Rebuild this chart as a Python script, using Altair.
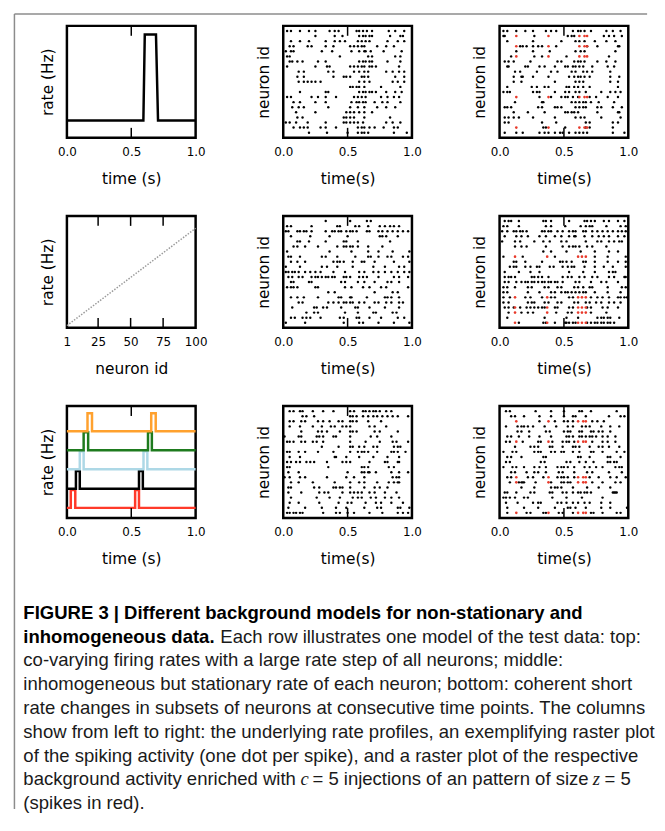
import altair as alt
import pandas as pd

# ---------------- data ----------------
# Row 1, left: co-varying rate step (time in s, rate in Hz)
A1_T = [0.0, 0.594, 0.605, 0.692, 0.708, 1.0]
A1_RATE = [10, 10, 60, 60, 10, 10]

# Row 2, left: inhomogeneous stationary rates (neuron id -> rate)
B1_NEURON = [1, 100]
B1_RATE = [1, 44.5]

# Row 3, left: coherent short rate changes in 5 subsets
C1_SERIES = ["red", "black", "lightblue", "green", "orange"]
C1_COLORS = ["#ff3a2a", "#000000", "#add8e6", "#1e7b1e", "#ffa12e"]
C1_BASE = [0.09, 0.26, 0.435, 0.605, 0.775]
C1_PULSE_START = [[0.030, 0.530], [0.070, 0.560], [0.100, 0.595], [0.130, 0.630], [0.160, 0.655]]
C1_PULSE_END = [[0.065, 0.560], [0.100, 0.590], [0.130, 0.625], [0.165, 0.660], [0.195, 0.690]]
C1_PULSE_HEIGHT = 0.16

# Raster plots: spike times (s) per displayed neuron row (top row first)
A2_SPIKES = [
    [0.03, 0.06, 0.13, 0.20, 0.25, 0.36, 0.40, 0.43, 0.57, 0.59, 0.62, 0.65, 0.69, 0.82, 0.87, 0.94],
    [0.25, 0.40, 0.46, 0.59, 0.62, 0.64, 0.67, 0.69, 0.83, 0.91, 0.93],
    [0.06, 0.13, 0.20, 0.33, 0.40, 0.44, 0.48, 0.58, 0.61, 0.64, 0.67, 0.81, 0.89, 0.94],
    [0.05, 0.08, 0.19, 0.22, 0.33, 0.39, 0.52, 0.55, 0.58, 0.61, 0.63, 0.73, 0.80, 0.86],
    [0.02, 0.06, 0.08, 0.30, 0.38, 0.53, 0.59, 0.63, 0.64, 0.68, 0.78, 0.92],
    [0.03, 0.05, 0.44, 0.66, 0.69, 0.87, 0.91],
    [0.05, 0.07, 0.11, 0.15, 0.27, 0.33, 0.59, 0.62, 0.64, 0.67, 0.69, 0.81, 0.91],
    [0.03, 0.25, 0.34, 0.36, 0.52, 0.55, 0.58, 0.61, 0.63, 0.67, 0.69, 0.72, 0.90],
    [0.12, 0.16, 0.35, 0.39, 0.55, 0.59, 0.63, 0.66, 0.80, 0.85, 0.90, 0.94],
    [0.11, 0.16, 0.39, 0.47, 0.49, 0.52, 0.61, 0.63, 0.66, 0.87, 0.94],
    [0.12, 0.16, 0.19, 0.22, 0.25, 0.29, 0.59, 0.63, 0.67, 0.85, 0.89, 0.94],
    [0.52, 0.54, 0.57, 0.59, 0.63, 0.76, 0.91],
    [0.13, 0.33, 0.35, 0.59, 0.62, 0.64, 0.67, 0.69, 0.72, 0.80, 0.87, 0.92],
    [0.03, 0.06, 0.22, 0.27, 0.33, 0.41, 0.55, 0.58, 0.61, 0.64, 0.76, 0.81, 0.86, 0.90],
    [0.08, 0.13, 0.25, 0.33, 0.53, 0.57, 0.59, 0.62, 0.64, 0.71, 0.77, 0.81, 0.91],
    [0.07, 0.12, 0.16, 0.35, 0.52, 0.58, 0.63, 0.73, 0.80, 0.87],
    [0.10, 0.25, 0.49, 0.52, 0.55, 0.59, 0.63, 0.69],
    [0.11, 0.15, 0.47, 0.49, 0.52, 0.55, 0.63, 0.83],
    [0.02, 0.05, 0.10, 0.19, 0.33, 0.47, 0.49, 0.52, 0.55, 0.58, 0.62, 0.80, 0.85, 0.91],
    [0.08, 0.13, 0.16, 0.19, 0.29, 0.33, 0.41, 0.58, 0.61, 0.63, 0.67, 0.71, 0.78, 0.86, 0.89],
    [0.20, 0.34, 0.50, 0.58, 0.61, 0.63, 0.66, 0.86, 0.96],
]
A3_SPIKES = [
    [0.03, 0.06, 0.13, 0.20, 0.26, 0.36, 0.40, 0.44, 0.57, 0.61, 0.63, 0.66, 0.71, 0.83, 0.88, 0.94],
    [0.03, 0.04, 0.27, 0.53, 0.56, 0.58, 0.81, 0.85, 0.89, 0.95],
    [0.06, 0.26, 0.48, 0.59, 0.62, 0.66, 0.74, 0.83, 0.90],
    [0.16, 0.18, 0.21, 0.26, 0.30, 0.33, 0.44, 0.68, 0.76, 0.92, 0.93],
    [0.13, 0.26, 0.39, 0.59, 0.63, 0.66, 0.90],
    [0.09, 0.27, 0.33, 0.52, 0.85],
    [0.04, 0.07, 0.11, 0.24, 0.45, 0.48, 0.58, 0.61, 0.63, 0.66, 0.76, 0.83, 0.90],
    [0.06, 0.07, 0.20, 0.22, 0.31, 0.35, 0.43, 0.51, 0.53, 0.57, 0.59, 0.62, 0.65, 0.72, 0.84, 0.89],
    [0.12, 0.16, 0.29, 0.40, 0.45, 0.56, 0.59, 0.65, 0.68, 0.72, 0.86],
    [0.11, 0.17, 0.18, 0.26, 0.38, 0.54, 0.58, 0.61, 0.63, 0.66, 0.70, 0.86, 0.93],
    [0.11, 0.17, 0.43, 0.59, 0.62, 0.65, 0.86, 0.92],
    [0.06, 0.25, 0.29, 0.35, 0.38, 0.52, 0.54, 0.58, 0.61, 0.65, 0.70, 0.92],
    [0.03, 0.06, 0.08, 0.26, 0.29, 0.31, 0.43, 0.51, 0.54, 0.59, 0.62, 0.67, 0.79, 0.86, 0.90, 0.94],
    [0.31, 0.40, 0.48, 0.51, 0.53, 0.57, 0.61, 0.70, 0.75, 0.84, 0.92],
    [0.12, 0.33, 0.34, 0.56, 0.59, 0.62, 0.65, 0.67, 0.71, 0.77, 0.89],
    [0.04, 0.06, 0.09, 0.30, 0.33, 0.43, 0.45, 0.48, 0.59, 0.62, 0.65, 0.67, 0.76, 0.79, 0.88, 0.95],
    [0.11, 0.22, 0.35, 0.51, 0.53, 0.56, 0.58, 0.61, 0.76, 0.92, 0.93],
    [0.04, 0.07, 0.11, 0.15, 0.26, 0.43, 0.59, 0.63, 0.66, 0.79, 0.94],
    [0.04, 0.07, 0.33, 0.44, 0.67, 0.70, 0.88, 0.92],
    [0.34, 0.36, 0.51, 0.67, 0.70, 0.88],
    [0.04, 0.13, 0.18, 0.31, 0.35, 0.38, 0.43, 0.47, 0.49, 0.54, 0.59, 0.62, 0.65, 0.68, 0.88, 0.97],
]
A3_PATTERN_ROWS = [2, 4, 6, 14, 20]
A3_INJECTIONS = [0.13, 0.38, 0.62, 0.66, 0.68]

B2_SPIKES = [
    [0.33, 0.52, 0.65, 0.68],
    [0.03, 0.06, 0.22, 0.42, 0.44, 0.56, 0.59, 0.66, 0.75, 0.79, 0.83, 0.86, 0.90],
    [0.02, 0.04, 0.11, 0.13, 0.16, 0.18, 0.22, 0.33, 0.38, 0.40, 0.43, 0.45, 0.49, 0.52, 0.54, 0.57, 0.65, 0.67, 0.74, 0.77, 0.81, 0.85, 0.89, 0.93, 0.97],
    [0.06, 0.21, 0.36, 0.50, 0.75, 0.77, 0.80, 0.89],
    [0.11, 0.13, 0.20, 0.33, 0.47, 0.49, 0.58, 0.83],
    [0.08, 0.11, 0.17, 0.27, 0.42, 0.47, 0.49, 0.52, 0.54, 0.58, 0.66, 0.77],
    [0.03, 0.36, 0.53, 0.66, 0.74, 0.85, 0.98],
    [0.04, 0.06, 0.13, 0.30, 0.33, 0.42, 0.56, 0.66, 0.68, 0.74, 0.81, 0.84, 0.93, 0.97],
    [0.06, 0.11, 0.17, 0.39, 0.42, 0.44, 0.47, 0.54, 0.61, 0.63, 0.71, 0.86, 0.98],
    [0.02, 0.13, 0.30, 0.34, 0.42, 0.54, 0.70, 0.79, 0.90, 0.94],
    [0.02, 0.04, 0.07, 0.09, 0.12, 0.17, 0.21, 0.25, 0.29, 0.39, 0.48, 0.59, 0.63, 0.70, 0.74, 0.79, 0.84, 0.89, 0.94, 0.98],
    [0.04, 0.07, 0.12, 0.15, 0.22, 0.25, 0.27, 0.30, 0.33, 0.35, 0.38, 0.40, 0.47, 0.49, 0.52, 0.59, 0.62, 0.65, 0.74, 0.86, 0.90, 0.97],
    [0.06, 0.08, 0.20, 0.22, 0.45, 0.48, 0.58, 0.63, 0.71, 0.81, 0.84, 0.90],
    [0.03, 0.06, 0.08, 0.11, 0.25, 0.27, 0.48, 0.53, 0.62, 0.67, 0.76, 0.80, 0.97],
    [0.35, 0.40, 0.71, 0.85, 0.89],
    [0.06, 0.11, 0.16, 0.27, 0.43, 0.45, 0.52, 0.53, 0.65, 0.79, 0.81, 0.84, 0.90],
    [0.12, 0.15, 0.35, 0.39, 0.43, 0.47, 0.49, 0.52, 0.54, 0.59, 0.63, 0.71, 0.74, 0.80, 0.84, 0.90, 0.93],
    [0.07, 0.24, 0.26, 0.31, 0.34, 0.45, 0.56, 0.58, 0.67, 0.79, 0.90],
    [0.18, 0.24, 0.27, 0.48, 0.58, 0.70, 0.72, 0.85, 0.88],
    [0.06, 0.09, 0.15, 0.18, 0.21, 0.29, 0.44, 0.47, 0.57, 0.59, 0.67, 0.76, 0.89, 0.94],
    [0.02, 0.17, 0.47, 0.59, 0.62, 0.74, 0.86, 0.98],
]
B3_SPIKES = [
    [0.04, 0.07, 0.09, 0.15, 0.34, 0.36, 0.40, 0.54, 0.66, 0.68, 0.71, 0.74, 0.81, 0.85, 0.92, 0.97],
    [0.03, 0.06, 0.15, 0.36, 0.40, 0.51, 0.63, 0.67, 0.70, 0.72, 0.83, 0.94, 0.98],
    [0.02, 0.06, 0.11, 0.13, 0.16, 0.18, 0.21, 0.33, 0.35, 0.38, 0.40, 0.45, 0.49, 0.54, 0.57, 0.59, 0.65, 0.67, 0.72, 0.76, 0.80, 0.84, 0.88, 0.92, 0.95, 0.98],
    [0.04, 0.13, 0.17, 0.22, 0.31, 0.36, 0.43, 0.48, 0.54, 0.58, 0.59, 0.66, 0.72, 0.77, 0.81, 0.85, 0.92, 0.97],
    [0.02, 0.12, 0.16, 0.27, 0.34, 0.39, 0.48, 0.52, 0.67, 0.76, 0.79, 0.85, 0.89, 0.93, 0.95],
    [0.12, 0.17, 0.21, 0.36, 0.49, 0.54, 0.57, 0.59, 0.62, 0.68, 0.72, 0.83],
    [0.34, 0.40, 0.52, 0.63, 0.74, 0.85, 0.92],
    [0.03, 0.18, 0.43, 0.74, 0.84, 0.98],
    [0.11, 0.13, 0.20, 0.33, 0.47, 0.49, 0.52, 0.56, 0.65, 0.67, 0.74, 0.84, 0.92, 0.98],
    [0.08, 0.11, 0.13, 0.20, 0.24, 0.29, 0.31, 0.39, 0.42, 0.49, 0.53, 0.56, 0.58, 0.66, 0.74, 0.81, 0.88, 0.98],
    [0.04, 0.15, 0.24, 0.31, 0.54, 0.65, 0.74, 0.85, 0.88, 0.90],
    [0.04, 0.07, 0.09, 0.12, 0.25, 0.27, 0.30, 0.33, 0.38, 0.49, 0.53, 0.56, 0.62, 0.66, 0.72, 0.76, 0.85, 0.89, 0.97, 0.98],
    [0.04, 0.07, 0.13, 0.17, 0.20, 0.22, 0.25, 0.27, 0.30, 0.33, 0.35, 0.38, 0.40, 0.43, 0.45, 0.49, 0.59, 0.62, 0.71, 0.79, 0.83, 0.92],
    [0.03, 0.06, 0.12, 0.22, 0.25, 0.35, 0.38, 0.45, 0.48, 0.58, 0.61, 0.65, 0.70, 0.72, 0.84, 0.95, 0.98],
    [0.03, 0.06, 0.22, 0.31, 0.40, 0.43, 0.48, 0.51, 0.53, 0.56, 0.59, 0.62, 0.65, 0.67, 0.74, 0.84, 0.94],
    [0.03, 0.08, 0.20, 0.24, 0.33, 0.40, 0.43, 0.54, 0.57, 0.71, 0.76, 0.80, 0.85, 0.92, 0.94, 0.97, 0.99],
    [0.03, 0.07, 0.22, 0.25, 0.27, 0.35, 0.38, 0.45, 0.48, 0.58, 0.61, 0.67, 0.70, 0.75, 0.79, 0.85, 0.89, 0.94],
    [0.04, 0.07, 0.11, 0.16, 0.21, 0.24, 0.27, 0.30, 0.33, 0.35, 0.43, 0.45, 0.54, 0.57, 0.68, 0.71, 0.80, 0.84, 0.92],
    [0.07, 0.17, 0.22, 0.26, 0.44, 0.53, 0.56, 0.71, 0.83],
    [0.06, 0.35, 0.52, 0.61, 0.76, 0.79, 0.81, 0.84, 0.86, 0.93],
    [0.15, 0.34, 0.36, 0.43, 0.51, 0.52, 0.54, 0.57, 0.59, 0.68, 0.71, 0.74, 0.76, 0.79, 0.81, 0.84, 0.86, 0.89],
]
B3_PATTERN_ROWS = [8, 16, 18, 19, 21]
B3_INJECTIONS = [0.12, 0.37, 0.61, 0.64, 0.67]

C2_SPIKES = [
    [0.05, 0.08, 0.13, 0.15, 0.23, 0.31, 0.39, 0.52, 0.55, 0.62, 0.64, 0.67, 0.70, 0.72, 0.75, 0.80, 0.84],
    [0.15, 0.18, 0.24, 0.52, 0.54, 0.57, 0.62, 0.66, 0.70, 0.73, 0.77, 0.81, 0.85, 0.89, 0.97],
    [0.05, 0.08, 0.14, 0.17, 0.27, 0.31, 0.36, 0.43, 0.46, 0.52, 0.54, 0.57, 0.66, 0.76],
    [0.05, 0.13, 0.23, 0.30, 0.37, 0.40, 0.46, 0.49, 0.52, 0.67, 0.71, 0.80],
    [0.14, 0.27, 0.30, 0.34, 0.44, 0.52, 0.54, 0.57, 0.71, 0.75, 0.89],
    [0.01, 0.12, 0.14, 0.26, 0.28, 0.31, 0.39, 0.41, 0.52, 0.68, 0.73, 0.84],
    [0.03, 0.05, 0.08, 0.14, 0.17, 0.23, 0.26, 0.31, 0.52, 0.64, 0.75, 0.85, 0.88, 0.97],
    [0.30, 0.43, 0.52, 0.54, 0.59, 0.63, 0.70, 0.73, 0.86, 0.89, 0.91],
    [0.03, 0.05, 0.12, 0.17, 0.27, 0.39, 0.52, 0.58, 0.61, 0.63, 0.66, 0.73, 0.84, 0.86, 0.89, 0.95],
    [0.05, 0.13, 0.40, 0.41, 0.49, 0.59, 0.70, 0.81, 0.90],
    [0.03, 0.06, 0.10, 0.13, 0.18, 0.21, 0.24, 0.34, 0.46, 0.49, 0.52, 0.67, 0.79, 0.81, 0.89, 0.90],
    [0.03, 0.05, 0.35, 0.61, 0.63, 0.66, 0.82, 0.86],
    [0.04, 0.12, 0.50, 0.61, 0.63, 0.66, 0.67, 0.72, 0.84, 0.90, 0.97],
    [0.01, 0.05, 0.13, 0.17, 0.34, 0.49, 0.55, 0.63, 0.85, 0.88, 0.90],
    [0.06, 0.12, 0.23, 0.40, 0.52, 0.59, 0.63, 0.73, 0.82, 0.86, 0.89, 0.90],
    [0.04, 0.06, 0.24, 0.28, 0.39, 0.41, 0.44, 0.46, 0.52, 0.63, 0.71, 0.75, 0.81],
    [0.04, 0.14, 0.28, 0.32, 0.35, 0.46, 0.52, 0.55, 0.58, 0.61, 0.67, 0.71, 0.79, 0.88],
    [0.06, 0.26, 0.36, 0.44, 0.54, 0.58, 0.61, 0.68, 0.72, 0.79, 0.84, 0.90],
    [0.05, 0.12, 0.28, 0.43, 0.50, 0.53, 0.64, 0.72, 0.76, 0.84, 0.93],
    [0.04, 0.17, 0.30, 0.41, 0.49, 0.63, 0.73, 0.76, 0.89, 0.91, 0.98],
    [0.03, 0.05, 0.08, 0.10, 0.13, 0.15, 0.31, 0.41, 0.44, 0.50, 0.55, 0.67, 0.77, 0.89, 0.93, 0.97],
]
C3_SPIKES = [
    [0.05, 0.08, 0.28, 0.40, 0.50, 0.62, 0.64, 0.71, 0.91],
    [0.09, 0.12, 0.19, 0.31, 0.40, 0.50, 0.57, 0.59, 0.67, 0.85, 0.94, 0.97],
    [0.31, 0.43, 0.50, 0.53, 0.57, 0.72, 0.76, 0.81],
    [0.05, 0.14, 0.17, 0.19, 0.22, 0.26, 0.35, 0.44, 0.53, 0.57, 0.64, 0.67, 0.70, 0.79, 0.86, 0.93],
    [0.14, 0.17, 0.23, 0.36, 0.39, 0.50, 0.53, 0.55, 0.62, 0.64, 0.71, 0.73, 0.77, 0.80, 0.86],
    [0.06, 0.09, 0.15, 0.23, 0.31, 0.40, 0.52, 0.54, 0.57, 0.62, 0.64, 0.67, 0.70, 0.72, 0.75, 0.80, 0.84, 0.90],
    [0.05, 0.08, 0.18, 0.30, 0.32, 0.41, 0.49, 0.52, 0.54, 0.58, 0.72, 0.80, 0.84, 0.90],
    [0.12, 0.24, 0.27, 0.30, 0.39, 0.41, 0.49, 0.57, 0.59, 0.62, 0.70, 0.77, 0.80, 0.85, 0.93],
    [0.03, 0.10, 0.13, 0.27, 0.30, 0.32, 0.40, 0.43, 0.48, 0.50, 0.57, 0.62, 0.71, 0.73, 0.80, 0.91, 0.97],
    [0.06, 0.09, 0.17, 0.34, 0.36, 0.61, 0.63, 0.70, 0.84, 0.86, 0.94],
    [0.05, 0.08, 0.32, 0.35, 0.52, 0.55, 0.62, 0.67, 0.73, 0.84, 0.86, 0.89, 0.91],
    [0.03, 0.10, 0.13, 0.19, 0.27, 0.31, 0.36, 0.45, 0.48, 0.50, 0.53, 0.58, 0.66, 0.70, 0.75, 0.80, 0.90, 0.93, 0.95],
    [0.09, 0.12, 0.21, 0.27, 0.30, 0.36, 0.46, 0.49, 0.58, 0.68, 0.72, 0.85, 0.95],
    [0.06, 0.09, 0.22, 0.26, 0.34, 0.45, 0.48, 0.50, 0.53, 0.58, 0.70, 0.77, 0.86, 0.91, 0.98],
    [0.08, 0.15, 0.17, 0.18, 0.19, 0.28, 0.40, 0.48, 0.50, 0.53, 0.55, 0.72, 0.80, 0.90, 0.94],
    [0.17, 0.27, 0.40, 0.43, 0.45, 0.48, 0.57, 0.68, 0.77, 0.86],
    [0.04, 0.06, 0.13, 0.24, 0.27, 0.39, 0.41, 0.49, 0.52, 0.57, 0.61, 0.63, 0.66, 0.68, 0.71, 0.88, 0.89, 0.90, 0.91],
    [0.03, 0.05, 0.08, 0.12, 0.19, 0.22, 0.41, 0.52, 0.64, 0.80],
    [0.05, 0.14, 0.26, 0.30, 0.32, 0.45, 0.48, 0.52, 0.57, 0.61, 0.66, 0.70, 0.79, 0.86],
    [0.06, 0.19, 0.30, 0.43, 0.53, 0.55, 0.59, 0.67, 0.79, 0.86, 0.99],
    [0.06, 0.21, 0.24, 0.34, 0.36, 0.46, 0.49, 0.57, 0.71, 0.73, 0.80, 0.91, 0.94],
]
C3_PATTERN_ROWS = [3, 7, 14, 15, 21]
C3_INJECTIONS = [0.13, 0.38, 0.61, 0.65, 0.67]

TIME_TICKS = [0.0, 0.5, 1.0]
NEURON_TICKS = [1, 25, 50, 75, 100]

CAPTION_BOLD_1 = "FIGURE 3 | Different background models for non-stationary and"
CAPTION_BOLD_2 = "inhomogeneous data."
CAPTION_REG_2 = "Each row illustrates one model of the test data: top:"
CAPTION_LINES = [
    "co-varying firing rates with a large rate step of all neurons; middle:",
    "inhomogeneous but stationary rate of each neuron; bottom: coherent short",
    "rate changes in subsets of neurons at consecutive time points. The columns",
    "show from left to right: the underlying rate profiles, an exemplifying raster plot",
    "of the spiking activity (one dot per spike), and a raster plot of the respective",
]
CAPTION_L8 = ["background activity enriched with", "c", "= 5 injections of an pattern of size", "z", "= 5"]
CAPTION_LAST = "(spikes in red)."

# ---------------- layout / style ----------------
W, H = 130, 113
TICK_LEN = 10
AX_FONT = "DejaVu Sans"
RED = "#e8392a"
CAP_FONT = "Liberation Sans"
CAP_SIZE = 18.7
ROW_GAP, COL_GAP = 79, 88.5


def x_axis(title, values=TIME_TICKS, fmt=".1f"):
    return alt.Axis(values=values, format=fmt, ticks=False, domain=False, grid=False,
                    labelFont=AX_FONT, labelFontSize=12, labelColor="black", labelPadding=9,
                    labelFlush=False, labelOverlap=False,
                    title=title, titleFont=AX_FONT, titleFontSize=15.5, titleFontWeight="normal",
                    titleColor="black", titlePadding=14)


def y_axis(title):
    return alt.Axis(labels=False, ticks=False, domain=False, grid=False,
                    title=title, titleFont=AX_FONT, titleFontSize=15.5, titleFontWeight="normal",
                    titleColor="black", titlePadding=12)


def inner_ticks(values, field, scale, axis):
    df = pd.DataFrame({field: values})
    base = alt.Chart(df).mark_rule(color="black", strokeWidth=1.5)
    xenc = alt.X(f"{field}:Q", scale=scale, axis=axis)
    top = base.encode(x=xenc, y=alt.value(0), y2=alt.value(TICK_LEN))
    bot = base.encode(x=xenc, y=alt.value(H - TICK_LEN), y2=alt.value(H))
    return [top, bot]


TSCALE = alt.Scale(domain=[0, 1], nice=False, zero=False)
NSCALE = alt.Scale(domain=[0, 22], reverse=True, nice=False, zero=False)


def raster(spikes, pattern_rows=None, injections=None):
    xa, ya = x_axis("time(s)"), y_axis("neuron id")
    bg = pd.DataFrame([{"t": t, "n": i} for i, row in enumerate(spikes, start=1) for t in row])
    layers = [alt.Chart(bg).mark_circle(size=6, opacity=1, color="black").encode(
        x=alt.X("t:Q", scale=TSCALE, axis=xa), y=alt.Y("n:Q", scale=NSCALE, axis=ya))]
    if pattern_rows:
        pat = pd.DataFrame([{"t": t, "n": r} for r in pattern_rows for t in injections])
        layers.append(alt.Chart(pat).mark_circle(size=7, opacity=1, color=RED).encode(
            x=alt.X("t:Q", scale=TSCALE, axis=xa), y=alt.Y("n:Q", scale=NSCALE, axis=ya)))
    layers += inner_ticks([0.5], "t", TSCALE, xa)
    return alt.layer(*layers).properties(width=W, height=H)


# ---------- caption + frame (drawn relative to the top-left panel) ----------
one = pd.DataFrame({"s": [""]})


def txt(text, x, y, weight="normal", style="normal", font=CAP_FONT, color="#1a1a1a"):
    return alt.Chart(pd.DataFrame({"s": [text]})).mark_text(
        align="left", baseline="middle", font=font, fontSize=CAP_SIZE,
        fontWeight=weight, fontStyle=style, color=color,
    ).encode(text="s:N", x=alt.value(x), y=alt.value(y))


X0 = -44
Y0, DY = 593, 24
cap_layers = [
    txt(CAPTION_BOLD_1, X0, Y0, weight="bold", color="black"),
    txt(CAPTION_BOLD_2, X0, Y0 + DY, weight="bold", color="black"),
    txt(CAPTION_REG_2, 155, Y0 + DY),
]
for k, line in enumerate(CAPTION_LINES):
    cap_layers.append(txt(line, X0, Y0 + DY * (k + 2)))
l8x = [X0, 236, 248, 531, 543]
for seg, xx in zip(CAPTION_L8, l8x):
    ital = seg in ("c", "z")
    cap_layers.append(txt(seg, xx, Y0 + DY * 7, style="italic" if ital else "normal",
                          font="Liberation Serif" if ital else CAP_FONT))
cap_layers.append(txt(CAPTION_LAST, X0, Y0 + DY * 8))

FRAME_TOP, FRAME_BOTTOM, FRAME_LEFT, FRAME_RIGHT = -12, 791, -53, 586
frame_v = alt.Chart(one).mark_rule(color="#8c8c8c", strokeWidth=1.5).encode(
    x=alt.value(FRAME_LEFT), y=alt.value(FRAME_TOP), y2=alt.value(FRAME_BOTTOM))
frame_h = alt.Chart(one).mark_rule(color="#8c8c8c", strokeWidth=1.5).encode(
    x=alt.value(FRAME_LEFT), x2=alt.value(FRAME_RIGHT), y=alt.value(FRAME_TOP))

# Row 1 left
xa_t = x_axis("time (s)")
ya_r = y_axis("rate (Hz)")
a1_df = pd.DataFrame({"t": A1_T, "rate": A1_RATE, "i": range(len(A1_T))})
a1 = alt.Chart(a1_df).mark_line(color="black", strokeWidth=2.5).encode(
    x=alt.X("t:Q", scale=TSCALE, axis=xa_t),
    y=alt.Y("rate:Q", scale=alt.Scale(domain=[0, 65], nice=False), axis=ya_r),
    order="i:Q",
)
A1 = alt.layer(a1, *inner_ticks([0.5], "t", TSCALE, xa_t), frame_v, frame_h, *cap_layers
               ).properties(width=W, height=H)

# Row 2 left
xa_n = x_axis("neuron id", values=NEURON_TICKS, fmt="d")
NSC = alt.Scale(domain=[1, 100], nice=False, zero=False)
b1_df = pd.DataFrame({"neuron": B1_NEURON, "rate": B1_RATE})
b1 = alt.Chart(b1_df).mark_line(color="#9a9a9a", strokeWidth=1.5, strokeDash=[1.5, 1.5]).encode(
    x=alt.X("neuron:Q", scale=NSC, axis=xa_n),
    y=alt.Y("rate:Q", scale=alt.Scale(domain=[0, 50], nice=False), axis=ya_r),
)
B1 = alt.layer(b1, *inner_ticks([25, 50, 75], "neuron", NSC, xa_n)).properties(width=W, height=H)

# Row 3 left: one line layer per subset
c1_layers = []
for s, col, base, starts, ends in zip(C1_SERIES, C1_COLORS, C1_BASE, C1_PULSE_START, C1_PULSE_END):
    pts = [(0.0, base)]
    for ts, te in zip(starts, ends):
        pts += [(ts, base), (ts, base + C1_PULSE_HEIGHT), (te, base + C1_PULSE_HEIGHT), (te, base)]
    pts.append((1.0, base))
    df = pd.DataFrame({"t": [p[0] for p in pts], "v": [p[1] for p in pts], "i": range(len(pts))})
    c1_layers.append(alt.Chart(df).mark_line(strokeWidth=2.5, color=col).encode(
        x=alt.X("t:Q", scale=TSCALE, axis=xa_t),
        y=alt.Y("v:Q", scale=alt.Scale(domain=[0, 1], nice=False), axis=ya_r),
        order="i:Q",
    ))
C1 = alt.layer(*c1_layers, *inner_ticks([0.5], "t", TSCALE, xa_t)).properties(width=W, height=H)

A2 = raster(A2_SPIKES)
A3 = raster(A3_SPIKES, A3_PATTERN_ROWS, A3_INJECTIONS)
B2 = raster(B2_SPIKES)
B3 = raster(B3_SPIKES, B3_PATTERN_ROWS, B3_INJECTIONS)
C2 = raster(C2_SPIKES)
C3 = raster(C3_SPIKES, C3_PATTERN_ROWS, C3_INJECTIONS)

chart = alt.concat(
    A1, A2, A3, B1, B2, B3, C1, C2, C3,
    columns=3, spacing={"row": ROW_GAP, "column": COL_GAP}, bounds="flush",
).properties(
    padding={"left": 4.5, "top": 0, "right": 0, "bottom": 0},
    background="white",
).configure_view(stroke="black", strokeWidth=2.5)

chart.save("out.html", embed_options={"renderer": "svg", "actions": False})
